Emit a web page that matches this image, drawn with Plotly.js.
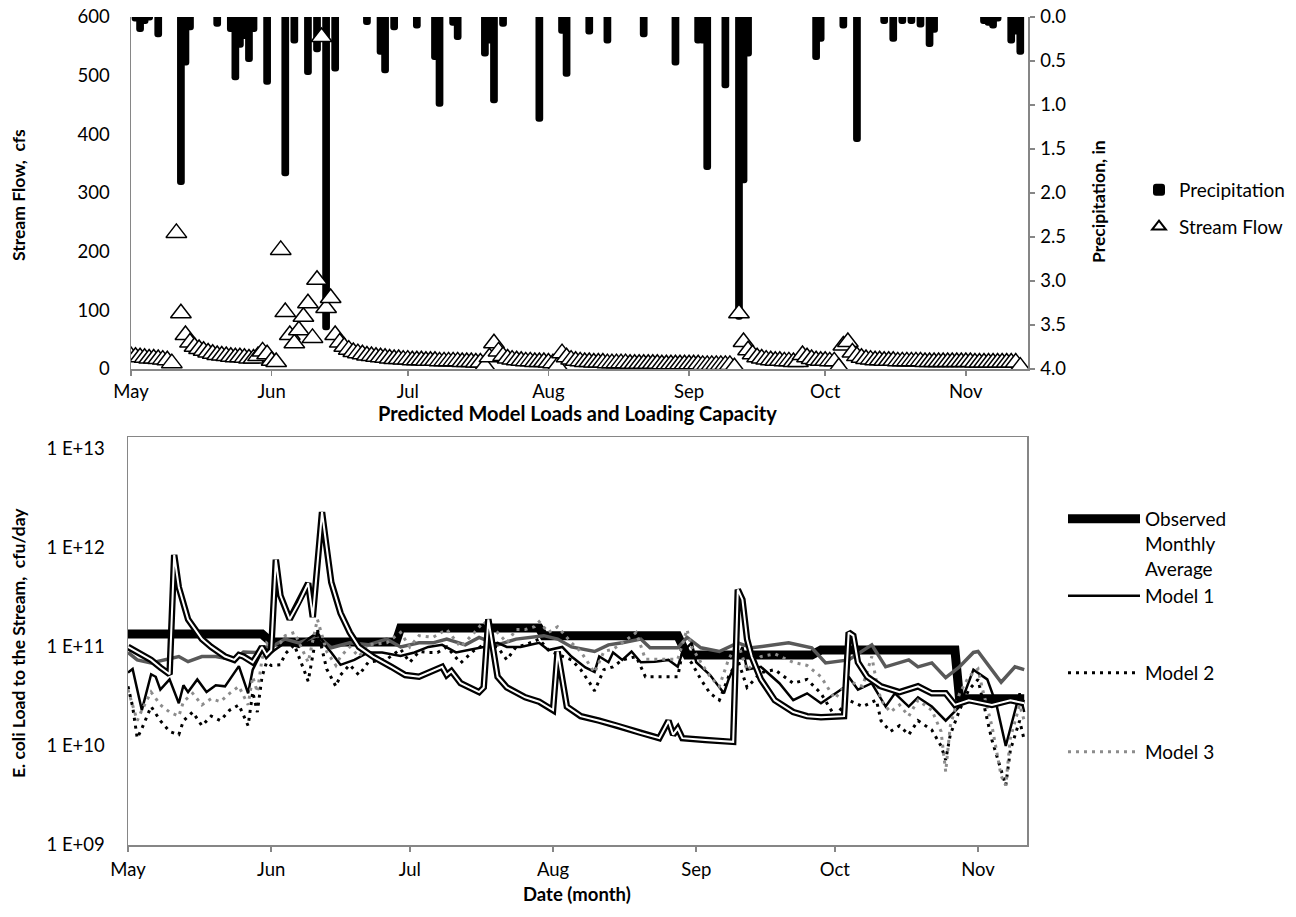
<!DOCTYPE html>
<html><head><meta charset="utf-8">
<script src="https://cdn.plot.ly/plotly-3.0.1.min.js"></script>
<style>html,body{margin:0;padding:0;background:#fff}#chart{width:1296px;height:917px}</style>
</head><body><div id="chart"></div>
<script>
// ---------- DATA (days counted from May 1) ----------
const precipDays = [1,2,3,4,6,11,12,13,19,22,23,24,25,26,27,30,34,36,39,41,43,45,52,55,56,58,63,67,68,71,72,78,79,80,82,90,95,96,101,105,113,120,125,126,127,131,134,135,136,151,152,157,160,166,168,170,172,174,176,177,188,189,190,191,194,195,196];
const precipIn = [0.05,0.17,0.08,0.04,0.23,1.91,0.55,0.15,0.11,0.17,0.72,0.35,0.25,0.51,0.17,0.77,1.81,0.30,0.66,0.40,3.56,0.62,0.09,0.43,0.64,0.15,0.13,0.49,1.02,0.10,0.26,0.45,0.30,0.98,0.11,1.19,0.19,0.68,0.20,0.30,0.23,0.55,0.30,0.30,1.74,0.81,3.44,1.89,0.45,0.49,0.28,0.13,1.42,0.08,0.28,0.08,0.08,0.12,0.34,0.18,0.08,0.10,0.13,0.05,0.30,0.20,0.43];

// daily stream flow, cfs, from May 1
const flowCfs = [
 22,21,20,19,18,18,17,16,15,10,
 232,95,58,45,38,34,31,28,26,24,
 23,22,21,20,20,19,18,18,22,30,
 25,14,12,203,97,58,44,66,89,112,
 53,152,566,104,121,58,45,38,33,29,
 27,25,23,22,21,20,19,18,17,17,
 16,16,15,15,15,14,14,14,13,13,
 13,13,13,12,12,12,11,11,5,20,
 44,30,22,18,16,15,14,13,13,12,
 12,12,11,10,5,27,20,16,14,13,
 12,12,11,11,11,10,10,10,10,10,
 9,9,9,9,9,9,9,8,8,8,
 8,8,8,8,8,8,7,7,7,7,
 7,7,7,3,95,46,32,25,20,18,
 16,15,14,14,13,13,12,12,24,20,
 17,15,14,14,13,13,3,40,46,28,
 22,19,17,16,15,15,14,14,14,13,
 13,13,13,13,13,12,12,12,12,12,
 12,12,12,12,12,12,11,11,11,11,
 11,11,11,11,11,11,4];

const obsDays = [0,29,31,58,59,89,90,119,121,148,150,179,180,194];
const obsLoad = [1.35e11,1.35e11,1.12e11,1.12e11,1.55e11,1.55e11,1.3e11,1.3e11,8.3e10,8.3e10,9.3e10,9.3e10,3.0e10,3.0e10];

const m1Days = [0,1,3,5,6,7,9,11,12,13,15,17,19,21,24,26,27,29,30,31,34,37,39,41,43,44,46,49,52,55,59,62,65,68,71,74,77,80,82,85,89,91,94,96,99,101,102,104,105,107,109,111,114,117,119,120,122,123,126,129,130,133,134,137,141,144,147,150,153,155,156,158,161,164,166,169,171,174,177,180,183,186,188,190,193,194];
const m1Load = [5.5e10,6.0e10,2.3e10,5.3e10,5.0e10,3.7e10,4.7e10,2.7e10,4.1e10,3.5e10,4.7e10,3.5e10,4.1e10,4.0e10,6.4e10,3.4e10,5.9e10,9.0e10,9.5e10,8.8e10,1.1e11,1.0e11,1.2e11,1.4e11,1.0e11,8.8e10,6.6e10,7.4e10,8.8e10,8.8e10,8.1e10,8.8e10,1.0e11,1.05e11,8.8e10,9.3e10,1.0e11,1.1e11,1.0e11,1.0e11,1.1e11,9.3e10,1.0e11,8.0e10,6.2e10,5.6e10,8.0e10,7.0e10,8.8e10,7.4e10,9.0e10,7.0e10,7.1e10,7.4e10,6.3e10,8.8e10,1.1e11,7.0e10,5.2e10,3.4e10,4.7e10,1.0e11,5.9e10,6.3e10,4.3e10,2.9e10,3.4e10,2.7e10,3.4e10,3.9e10,5.0e10,3.7e10,4.3e10,2.5e10,3.4e10,2.5e10,3.1e10,2.5e10,1.8e10,2.5e10,5.9e10,4.7e10,2.6e10,1.0e10,3.4e10,2.2e10];

const m2Days = [0,1,2,3,5,7,9,11,12,14,16,18,20,22,24,26,27,28,29,30,31,33,34,36,38,39,41,43,45,46,48,50,52,56,59,61,63,65,67,69,72,75,77,80,82,84,86,89,91,92,96,98,100,101,103,105,107,110,112,116,119,120,122,124,126,128,130,132,134,137,140,144,147,150,153,156,159,162,163,165,167,169,171,174,176,177,178,180,182,184,185,187,189,190,191,193,194];
const m2Load = [4.0e10,2.5e10,1.2e10,1.5e10,2.5e10,1.8e10,1.4e10,1.3e10,1.8e10,2.2e10,1.6e10,2.0e10,1.8e10,2.3e10,2.6e10,1.6e10,3.5e10,2.2e10,5.0e10,7.0e10,6.5e10,6.6e10,8.5e10,1.05e11,6.0e10,4.5e10,1.5e11,6.0e10,4.0e10,5.2e10,6.6e10,5.2e10,7.0e10,7.5e10,9.5e10,7.0e10,9.0e10,8.8e10,8.8e10,1.0e11,6.9e10,9.3e10,1.05e11,1.0e11,7.4e10,1.0e11,1.05e11,1.2e11,9.3e10,8.8e10,7.4e10,5.9e10,4.3e10,3.6e10,5.9e10,6.3e10,7.4e10,8.0e10,5.0e10,5.0e10,5.0e10,8.8e10,6.9e10,4.7e10,3.4e10,2.9e10,5.0e10,7.4e10,3.9e10,5.5e10,5.9e10,4.3e10,4.7e10,3.4e10,2.0e10,2.9e10,2.5e10,2.9e10,1.8e10,1.4e10,1.6e10,1.3e10,1.8e10,1.45e10,1.0e10,7.2e9,1.3e10,2.3e10,3.7e10,4.7e10,2.9e10,1.15e10,5.7e9,4.0e9,9.1e9,1.8e10,1.15e10];

const m3Days = [0,1,2,3,5,7,9,11,12,14,16,18,20,22,24,26,27,28,29,30,31,33,34,36,38,39,41,43,45,46,48,50,52,56,59,61,63,66,69,72,75,77,78,80,82,84,86,88,89,91,93,96,98,100,101,103,105,107,110,112,116,119,121,122,124,126,128,130,132,134,137,140,144,147,150,153,156,159,161,162,163,165,167,169,171,174,176,177,178,180,182,184,185,187,189,190,191,193,194];
const m3Load = [3.7e10,2.6e10,1.8e10,2.3e10,3.5e10,2.6e10,2.2e10,2.0e10,2.8e10,3.4e10,2.6e10,3.0e10,2.8e10,3.4e10,4.0e10,2.6e10,5.0e10,3.5e10,7.5e10,1.1e11,1.0e11,1.1e11,1.3e11,1.4e11,9.0e10,7.0e10,1.9e11,9.0e10,6.5e10,8.0e10,1.0e11,8.0e10,1.05e11,1.1e11,1.4e11,1.0e11,1.3e11,1.25e11,1.5e11,1.0e11,1.4e11,1.8e11,1.6e11,1.4e11,1.1e11,1.5e11,1.5e11,1.6e11,1.8e11,1.4e11,1.6e11,1.1e11,9.0e10,6.5e10,5.5e10,9.0e10,9.5e10,1.1e11,1.4e11,7.5e10,7.5e10,7.5e10,1.5e11,1.0e11,7.0e10,5.0e10,4.0e10,7.5e10,1.1e11,5.8e10,8.0e10,8.5e10,7.0e10,6.5e10,5.0e10,3.0e10,4.5e10,4.0e10,8.0e10,4.5e10,2.9e10,2.2e10,2.6e10,2.0e10,2.9e10,2.3e10,1.4e10,5.5e9,1.6e10,3.4e10,5.0e10,6.0e10,3.7e10,1.6e10,5.0e9,4.0e9,1.2e10,2.6e10,1.8e10];

const capDays = [0,2,5,8,11,13,16,19,23,25,28,29,31,34,37,41,44,48,52,56,59,63,66,69,73,76,80,84,87,90,93,96,101,104,107,111,113,119,121,124,128,132,135,143,148,151,156,161,164,169,171,174,177,180,183,184,189,192,194];
const capLoad = [8.8e10,7.4e10,6.9e10,7.4e10,8.0e10,7.1e10,8.0e10,8.0e10,7.4e10,8.9e10,8.8e10,1.0e11,1.0e11,1.2e11,1.1e11,1.3e11,9.8e10,1.1e11,1.05e11,1.2e11,1.0e11,1.1e11,1.1e11,1.2e11,1.05e11,1.25e11,1.05e11,1.2e11,1.25e11,1.3e11,1.2e11,1.0e11,9.0e10,1.05e11,1.1e11,1.2e11,9.8e10,9.8e10,1.25e11,9.8e10,9.0e10,1.1e11,9.8e10,1.1e11,9.8e10,6.9e10,7.4e10,1.05e11,6.3e10,7.4e10,6.3e10,6.9e10,4.9e10,6.3e10,8.8e10,9.0e10,4.4e10,6.3e10,5.9e10];

const predDays = [0,2,5,7,9,10,11,13,16,18,21,23,24,25,27,28,29,30,31,32,33,35,37,39,40,42,43,44,46,48,50,53,57,60,63,66,68,69,70,72,76,77,78,80,82,86,89,92,93,95,98,102,106,111,115,117,118,119,120,125,131,132,133,134,135,137,140,144,147,150,155,156,157,158,160,163,167,171,174,177,179,182,187,191,194];
const predLoad = [1.0e11,8.8e10,7.4e10,6.2e10,5.3e10,8.5e11,4.0e11,1.9e11,1.2e11,1.0e11,8.0e10,7.4e10,8.3e10,8.0e10,7.0e10,8.3e10,1.0e11,8.3e10,9.3e10,7.6e11,3.3e11,1.9e11,2.8e11,4.4e11,2.0e11,2.3e12,1.0e12,4.5e11,2.2e11,1.4e11,1.0e11,8.0e10,6.3e10,5.2e10,5.0e10,5.7e10,6.3e10,5.2e10,5.7e10,4.3e10,3.5e10,3.9e10,1.9e11,5.0e10,3.9e10,3.1e10,2.8e10,2.3e10,9.0e10,2.5e10,2.0e10,1.8e10,1.6e10,1.35e10,1.2e10,1.8e10,1.3e10,1.5e10,1.2e10,1.15e10,1.1e10,3.8e11,3.0e11,1.2e11,8.0e10,4.7e10,2.9e10,2.2e10,2.0e10,1.95e10,2.0e10,1.4e11,1.3e11,7.0e10,5.0e10,4.0e10,3.5e10,4.0e10,3.4e10,3.4e10,2.6e10,2.9e10,2.6e10,2.9e10,2.7e10];

const loadTickVals = [1e9,1e10,1e11,1e12,1e13];
const loadTickText = ['1 E+09','1 E+10','1 E+11','1 E+12','1 E+13'];

// ---------- HELPERS ----------
const W = 1296, H = 917;
const px = x => x / W;
const py = y => 1 - y / H;
const DAY = 86400000;
const T0 = Date.UTC(2011, 4, 1);
const toDate = d => new Date(T0 + d * DAY).toISOString().slice(0, 19).replace('T', ' ');
const dates = arr => arr.map(toDate);
const flowDates = flowCfs.map((v, i) => toDate(i));

const AX = '#868686';
const FONT = 'Lato, "Open Sans", sans-serif';

const traces = [
  { type: 'bar', name: 'Precipitation', x: dates(precipDays), y: precipIn,
    xaxis: 'x', yaxis: 'y', width: 1.7 * DAY,
    marker: { color: '#000', cornerradius: 4, line: { width: 0 } },
    legend: 'legend', legendgroup: 'p' },
  { type: 'scatter', mode: 'markers', name: 'Stream Flow', x: flowDates, y: flowCfs,
    xaxis: 'x', yaxis: 'y2',
    marker: { symbol: 'triangle-up', size: 18, color: '#fff', line: { color: '#000', width: 1.5 } },
    legend: 'legend', legendgroup: 'f' },

  { type: 'scatter', mode: 'lines', name: 'Observed<br>Monthly<br>Average', x: dates(obsDays), y: obsLoad,
    xaxis: 'x2', yaxis: 'y3', line: { color: '#000', width: 9 }, legend: 'legend2' },
  { type: 'scatter', mode: 'lines', name: 'Loading Capacity', x: dates(capDays), y: capLoad,
    xaxis: 'x2', yaxis: 'y3', line: { color: '#595959', width: 3.5 }, showlegend: false },
  { type: 'scatter', mode: 'lines', name: 'Model 1', x: dates(m1Days), y: m1Load,
    xaxis: 'x2', yaxis: 'y3', line: { color: '#000', width: 2.5 }, legend: 'legend3' },
  { type: 'scatter', mode: 'lines', name: 'Model 2', x: dates(m2Days), y: m2Load,
    xaxis: 'x2', yaxis: 'y3', line: { color: '#000', width: 3, dash: '3px,5px' }, legend: 'legend4' },
  { type: 'scatter', mode: 'lines', name: 'Model 3', x: dates(m3Days), y: m3Load,
    xaxis: 'x2', yaxis: 'y3', line: { color: '#8c8c8c', width: 3, dash: '3px,5px' }, legend: 'legend5' },
  { type: 'scatter', mode: 'lines', name: 'Predicted Load', x: dates(predDays), y: predLoad,
    xaxis: 'x2', yaxis: 'y3', line: { color: '#000', width: 6.5 }, showlegend: false },
  { type: 'scatter', mode: 'lines', name: 'Predicted Load', x: dates(predDays), y: predLoad,
    xaxis: 'x2', yaxis: 'y3', line: { color: '#fff', width: 2 }, showlegend: false }
];

const baseAxis = {
  showgrid: false, zeroline: false, showline: true, linecolor: AX, linewidth: 1.5,
  tickfont: { family: FONT, size: 18.5, color: '#000' }
};
const legendBase = {
  xanchor: 'left', yanchor: 'top', bgcolor: 'rgba(0,0,0,0)', borderwidth: 0,
  font: { family: FONT, size: 19, color: '#000' }, itemclick: false, itemdoubleclick: false
};
const titleFont = s => ({ family: FONT, size: s, color: '#000' });
const ann = (text, x, y, size, angle) => ({
  text: '<b>' + text + '</b>', x: px(x), y: py(y), xref: 'paper', yref: 'paper',
  xanchor: 'center', yanchor: 'middle', textangle: angle || 0, showarrow: false, font: titleFont(size)
});

const layout = {
  width: W, height: H, margin: { l: 0, r: 0, t: 0, b: 0 },
  paper_bgcolor: '#fff', plot_bgcolor: 'rgba(0,0,0,0)',
  font: { family: FONT, size: 18, color: '#000' },
  hovermode: false, barmode: 'overlay',
  xaxis: Object.assign({}, baseAxis, {
    type: 'date', domain: [px(131), px(1028)], range: [toDate(0), toDate(197.7)], anchor: 'y',
    tickformat: '%b', dtick: 'M1', tick0: toDate(0), ticks: 'outside', ticklen: 5, tickcolor: AX,
    tickwidth: 1.5, ticklabelstandoff: 0 }),
  yaxis: Object.assign({}, baseAxis, {
    domain: [py(369), py(17)], range: [4, 0], side: 'right', anchor: 'x', dtick: 0.5, tickformat: '.1f',
    ticks: 'outside', ticklen: 5, tickcolor: AX, tickwidth: 1.5, ticklabelstandoff: 2 }),
  yaxis2: Object.assign({}, baseAxis, {
    overlaying: 'y', side: 'left', anchor: 'x', range: [0, 600], dtick: 100, ticks: '',
    ticklabelstandoff: 16 }),
  xaxis2: Object.assign({}, baseAxis, {
    type: 'date', domain: [px(128), px(1027)], range: [toDate(0), toDate(194.6)], anchor: 'y3',
    tickformat: '%b', dtick: 'M1', tick0: toDate(0), ticks: 'outside', ticklen: 5, tickcolor: AX,
    tickwidth: 1.5, mirror: true, ticklabelstandoff: 2 }),
  yaxis3: Object.assign({}, baseAxis, {
    type: 'log', domain: [py(845), py(437)], range: [9, 13.12], anchor: 'x2',
    tickvals: loadTickVals, ticktext: loadTickText, ticks: '', mirror: true, ticklabelstandoff: 18 }),
  legend: Object.assign({}, legendBase, { x: px(1139), y: py(171), traceorder: 'grouped', tracegroupgap: 9, itemsizing: 'constant' }),
  legend2: Object.assign({}, legendBase, { x: px(1063), y: py(500), itemwidth: 72, valign: 'top' }),
  legend3: Object.assign({}, legendBase, { x: px(1063), y: py(577), itemwidth: 72 }),
  legend4: Object.assign({}, legendBase, { x: px(1063), y: py(654), itemwidth: 72 }),
  legend5: Object.assign({}, legendBase, { x: px(1063), y: py(733), itemwidth: 72 }),
  annotations: [
    ann('Stream Flow,  cfs', 18, 195, 17.5, -90),
    ann('Precipitation, in', 1098, 202, 17.5, -90),
    ann('Predicted Model Loads and Loading Capacity', 577, 413, 20, 0),
    ann('E. coli Load to the Stream,  cfu/day', 18, 643, 17.5, -90),
    ann('Date (month)', 577, 894, 18.5, 0)
  ]
};

Plotly.newPlot('chart', traces, layout, { staticPlot: true, displayModeBar: false });
</script>
</body></html>
